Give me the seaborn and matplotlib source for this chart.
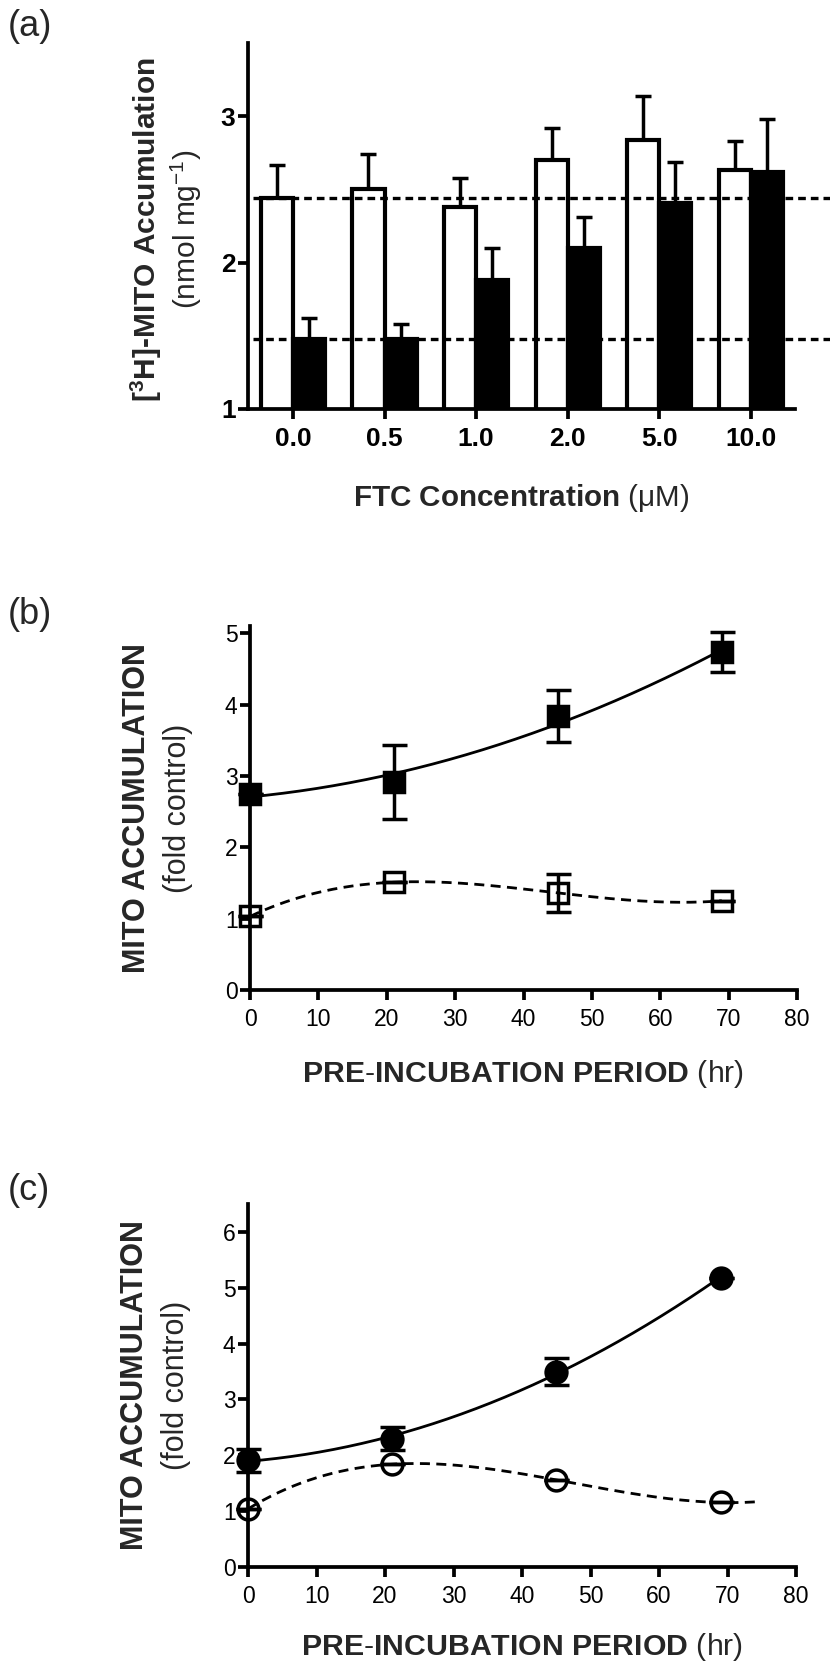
import numpy as np
import pandas as pd
import matplotlib
matplotlib.use("Agg")
import matplotlib.pyplot as plt
import seaborn as sns

# ---------------- data ----------------
# Panel (a)
ftc_conc = ["0.0", "0.5", "1.0", "2.0", "5.0", "10.0"]
control_mean = [2.44, 2.50, 2.38, 2.70, 2.84, 2.63]
control_err = [0.23, 0.24, 0.20, 0.22, 0.30, 0.20]
ftc_mean = [1.48, 1.48, 1.88, 2.10, 2.41, 2.62]
ftc_err = [0.14, 0.10, 0.22, 0.21, 0.28, 0.36]

# Panel (b)
time_b = [0, 21, 45, 69]
filled_b = [2.75, 2.91, 3.84, 4.73]
filled_b_err = [0.0, 0.52, 0.37, 0.28]
open_b = [1.03, 1.51, 1.36, 1.25]
open_b_err = [0.0, 0.0, 0.27, 0.0]

# Panel (c)
time_c = [0, 21, 45, 69]
filled_c = [1.91, 2.30, 3.50, 5.18]
filled_c_err = [0.21, 0.21, 0.24, 0.0]
open_c = [1.04, 1.84, 1.56, 1.155]
open_c_err = [0.0, 0.0, 0.0, 0.0]

# ---------------- style ----------------
sns.set_theme(style="ticks")
plt.rcParams["font.family"] = ["Liberation Sans", "DejaVu Sans"]
plt.rcParams["mathtext.fontset"] = "custom"
plt.rcParams["mathtext.rm"] = "Liberation Sans"
plt.rcParams["mathtext.bf"] = "Liberation Sans:bold"
plt.rcParams["mathtext.it"] = "Liberation Sans:italic"

LW = 2.7
fig = plt.figure(figsize=(8.3, 16.67), dpi=100)

def style_axes(ax, labelsize, bold=False):
    sns.despine(ax=ax)
    for s in ["left", "bottom"]:
        ax.spines[s].set_linewidth(LW)
        ax.spines[s].set_color("black")
        ax.spines[s].set_capstyle("projecting")
    ax.tick_params(axis="both", direction="out", length=7, width=LW,
                   colors="black", labelsize=labelsize, pad=2)
    ax.tick_params(axis="x", pad=6)
    if bold:
        for t in ax.get_xticklabels() + ax.get_yticklabels():
            t.set_fontweight("bold")
    ax.set_facecolor("white")

# ---------------- panel (a) ----------------
axa = fig.add_axes([248/830, 1-409/1667, 547/830, 366/1667])
df_a = pd.DataFrame({
    "conc": ftc_conc * 2,
    "value": control_mean + ftc_mean,
    "group": ["control"] * len(ftc_conc) + ["ftc"] * len(ftc_conc),
})
sns.barplot(data=df_a, x="conc", y="value", hue="group", order=ftc_conc,
            hue_order=["control", "ftc"],
            palette={"control": "white", "ftc": "black"},
            edgecolor="black", linewidth=3.0, width=0.7, gap=0,
            errorbar=None, legend=False, ax=axa, zorder=2)
for cont, means, errs in zip(axa.containers, [control_mean, ftc_mean], [control_err, ftc_err]):
    xc = [b.get_x() + b.get_width() / 2 for b in cont]
    axa.errorbar(xc, means, yerr=[np.zeros(len(errs)), errs], fmt="none",
                 ecolor="black", elinewidth=2.5, capsize=6, capthick=2.5, zorder=1)
for ref in [control_mean[0], ftc_mean[0]]:
    axa.axhline(ref, xmin=0.01, xmax=1.064, color="black", lw=2.4,
                linestyle=(0, (2.3, 1.5)), clip_on=False, zorder=5)
axa.set_xlim(-0.49, 5.48)
axa.set_ylim(1, 3.5)
axa.set_yticks([1, 2, 3])
axa.set_xlabel("")
axa.set_ylabel("")
style_axes(axa, 19, bold=True)
axa.text(-0.185, 0.49, r"[$\mathbf{^{3}}$H]-MITO Accumulation", rotation=90,
         transform=axa.transAxes, ha="center", va="center", fontsize=21.5, fontweight="bold")
axa.text(-0.112, 0.49, r"(nmol mg$^{-1}$)", rotation=90,
         transform=axa.transAxes, ha="center", va="center", fontsize=21.5)
axa.text(0.5, -89/366, r"$\mathbf{FTC\ Concentration}$ (μM)",
         transform=axa.transAxes, ha="center", va="center", fontsize=21.3)

# ---------------- panels (b) and (c) ----------------
def time_panel(rect, t, filled, filled_err, opn, opn_err, marker, ylim, yticks,
               open_end, ypos_lab):
    ax = fig.add_axes(rect)
    tt = np.array(t, dtype=float)
    # fitted curves
    pf = np.polyfit(tt, filled, 2)
    xs = np.linspace(tt.min(), tt.max(), 200)
    sns.lineplot(x=xs, y=np.polyval(pf, xs), color="black", lw=2.0, ax=ax,
                 sort=False, errorbar=None, clip_on=False)
    po = np.polyfit(tt, opn, 3)
    xo = np.linspace(tt.min(), open_end, 200)
    sns.lineplot(x=xo, y=np.polyval(po, xo), color="black", lw=2.0, ax=ax,
                 sort=False, errorbar=None, linestyle=(0, (3.6, 2.3)), clip_on=False)
    ax.errorbar(t, filled, yerr=filled_err, fmt=marker, ms=15, mfc="black",
                mec="black", mew=2.5, ecolor="black", elinewidth=2.5, capsize=9,
                capthick=2.5, clip_on=False, zorder=5)
    ax.errorbar(t, opn, yerr=opn_err, fmt=marker, ms=15, mfc="none",
                mec="black", mew=2.5, ecolor="black", elinewidth=2.5, capsize=9,
                capthick=2.5, clip_on=False, zorder=5)
    ax.set_xlim(0, 80)
    ax.set_xticks(np.arange(0, 81, 10))
    ax.set_ylim(*ylim)
    ax.set_yticks(yticks)
    style_axes(ax, 16.5)
    hpx = rect[3] * 1667
    ax.text(-0.207, 0.5, "MITO ACCUMULATION", rotation=90, transform=ax.transAxes,
            ha="center", va="center", fontsize=22, fontweight="bold")
    ax.text(-0.131, 0.5, "(fold control)", rotation=90, transform=ax.transAxes,
            ha="center", va="center", fontsize=22)
    ax.text(0.5, -ypos_lab / hpx, r"$\mathbf{PRE\text{-}INCUBATION\ PERIOD}$ (hr)",
            transform=ax.transAxes, ha="center", va="center", fontsize=21.8)
    return ax

axb = time_panel([250/830, 1-990/1667, 547/830, 364/1667], time_b, filled_b, filled_b_err,
                 open_b, open_b_err, "s", (0, 5.1), range(0, 6), max(time_b), 84)
axc = time_panel([248/830, 1-1567/1667, 548/830, 363/1667], time_c, filled_c, filled_c_err,
                 open_c, open_c_err, "o", (0, 6.5), range(0, 7), 74, 80)

# panel letters
for lab, yc in [("(a)", 27), ("(b)", 614), ("(c)", 1190)]:
    fig.text(8/830, 1 - yc/1667, lab, ha="left", va="center", fontsize=26)

fig.savefig("out.png", dpi=100, facecolor="white")
